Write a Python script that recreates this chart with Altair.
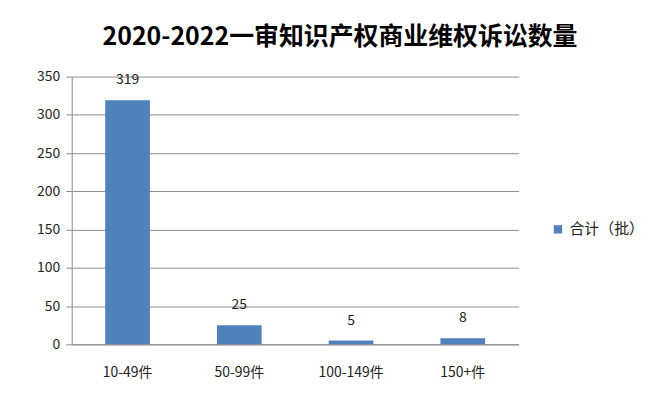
import altair as alt
import pandas as pd

categories = ["10-49件", "50-99件", "100-149件", "150+件"]
values = [319, 25, 5, 8]
series_name = "合计（批）"
y_ticks = [0, 50, 100, 150, 200, 250, 300, 350]
title_text = "2020-2022一审知识产权商业维权诉讼数量"

df = pd.DataFrame({"cat": categories, "val": values, "series": [series_name] * len(values)})

FONT = "Noto Sans CJK SC"
GRAY = "#8c8c8c"

base = alt.Chart(df).encode(
    x=alt.X("cat:N", sort=categories, title=None,
            scale=alt.Scale(paddingInner=0.6, paddingOuter=0.3),
            axis=alt.Axis(labelAngle=0, labelFontSize=14, labelFont=FONT, labelColor="#222",
                          ticks=False, domainColor=GRAY, labelPadding=21, grid=False)),
    y=alt.Y("val:Q", title=None,
            scale=alt.Scale(domain=[0, 350], nice=False),
            axis=alt.Axis(values=y_ticks, labelFontSize=14, labelFont=FONT, labelColor="#222",
                          tickColor=GRAY, tickSize=6, domainColor=GRAY, gridColor=GRAY,
                          labelPadding=6, labelOverlap=False, labelFlush=False)),
)

bars = base.mark_bar(color="#4F81BD").encode(
    color=alt.Color("series:N", scale=alt.Scale(range=["#4F81BD"]),
                    legend=alt.Legend(title=None, orient="none", legendX=481, legendY=146,
                                      symbolType="square", symbolSize=70, labelFontSize=15,
                                      labelFont=FONT, labelColor="#222")),
)

labels = base.mark_text(dy=-20, baseline="middle", fontSize=14, font=FONT, color="#222").encode(
    text="val:Q",
)

chart = (bars + labels).properties(
    width=449, height=269,
    title=alt.TitleParams(title_text, fontSize=25, font=FONT, fontWeight="bold",
                          color="#000", dx=45, offset=20),
    autosize=alt.AutoSizeParams(type="none"),
    padding={"left": 64, "top": 68, "right": 140, "bottom": 50},
).configure_view(stroke=None)

chart.save("out.html", embed_options={"renderer": "svg", "actions": False})
